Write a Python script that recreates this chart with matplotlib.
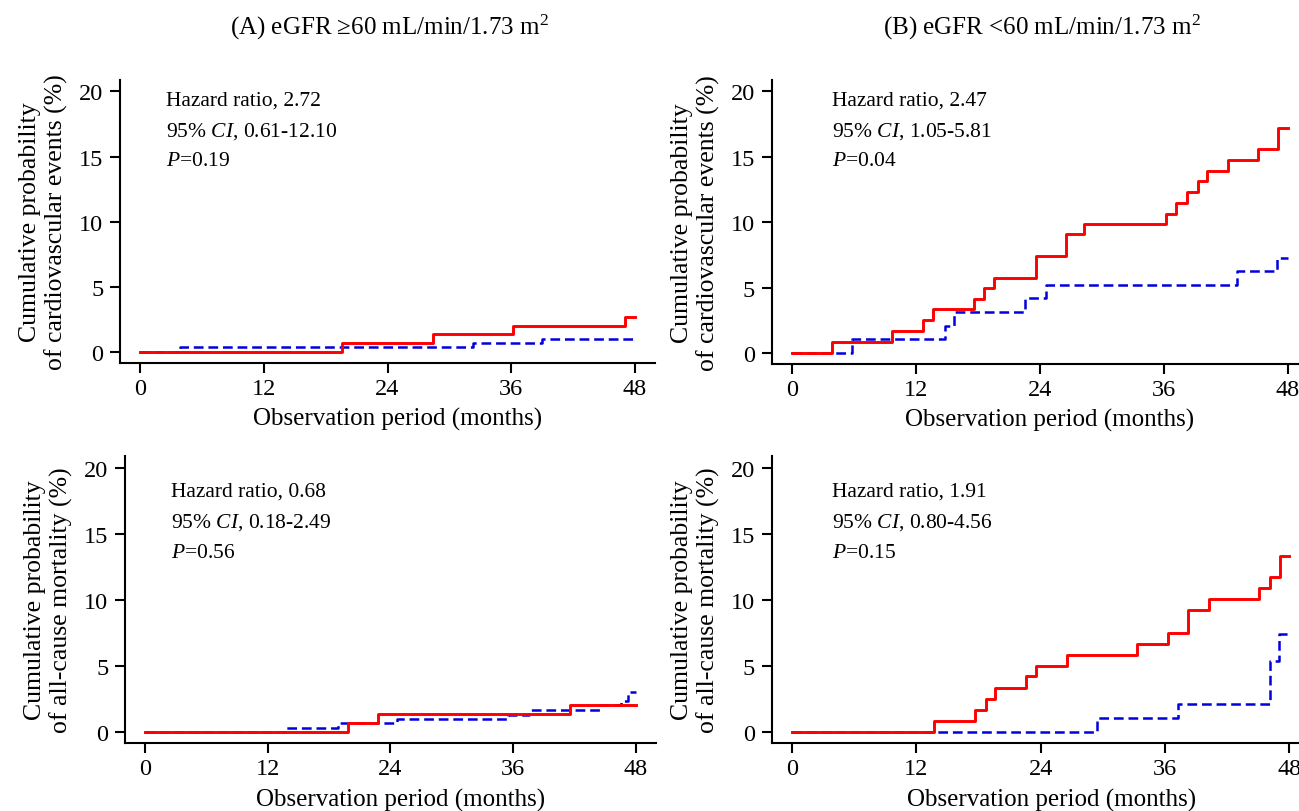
import numpy as np
import matplotlib.pyplot as plt

plt.rcParams['font.family'] = ['Liberation Serif', 'DejaVu Serif']
plt.rcParams['mathtext.fontset'] = 'custom'
plt.rcParams['mathtext.rm'] = 'Liberation Serif'
plt.rcParams['mathtext.it'] = 'Liberation Serif:italic'
plt.rcParams['lines.scale_dashes'] = False

# ---- data ----
col_titles = ['(A) eGFR \u226560 mL/min/1.73 m$^{2}$', '(B) eGFR <60 mL/min/1.73 m$^{2}$']
row_ylabels = ['Cumulative probability\nof cardiovascular events (%)',
               'Cumulative probability\nof all-cause mortality (%)']
x_label = 'Observation period (months)'
x_ticks = [0, 12, 24, 36, 48]
y_ticks = [0, 5, 10, 15, 20]
follow_up = 48

hazard_ratio = [['2.72', '2.47'], ['0.68', '1.91']]
ci_95 = [['0.61-12.10', '1.05-5.81'], ['0.18-2.49', '0.80-4.56']]
p_value = [['0.19', '0.04'], ['0.56', '0.15']]

# step times (months) and cumulative probability (%) after each step
cv_a_red_t = [0, 19.6, 28.4, 36.2, 47.0]
cv_a_red_p = [0, 0.70, 1.40, 1.99, 2.69]
cv_a_blue_t = [0, 3.9, 32.3, 39.0]
cv_a_blue_p = [0, 0.34, 0.70, 0.98]

cv_b_red_t = [0, 3.9, 9.7, 12.7, 13.7, 17.6, 18.6, 19.6, 23.6, 26.5, 28.3,
              36.2, 37.2, 38.3, 39.3, 40.2, 42.2, 45.1, 47.1]
cv_b_red_p = [0, 0.86, 1.67, 2.51, 3.32, 4.13, 4.94, 5.75, 7.39, 9.06, 9.85,
              10.66, 11.47, 12.28, 13.14, 13.95, 14.76, 15.57, 17.19]
cv_b_blue_t = [0, 5.8, 14.8, 15.7, 22.6, 24.6, 43.1, 47.0]
cv_b_blue_p = [0, 1.07, 2.08, 3.14, 4.20, 5.22, 6.28, 7.29]

mort_a_red_t = [0, 19.8, 22.8, 41.5]
mort_a_red_p = [0, 0.67, 1.38, 2.03]
mort_a_blue_t = [0, 13.8, 18.9, 24.6, 35.5, 37.5, 44.5, 46.5, 47.2]
mort_a_blue_p = [0, 0.31, 0.69, 0.97, 1.28, 1.64, 2.00, 2.33, 3.00]

mort_b_red_t = [0, 13.7, 17.7, 18.7, 19.6, 22.6, 23.5, 26.5, 33.3, 36.3,
                38.2, 40.2, 45.1, 46.1, 47.1]
mort_b_red_p = [0, 0.82, 1.67, 2.49, 3.32, 4.19, 5.01, 5.84, 6.66, 7.48,
                9.23, 10.03, 10.85, 11.70, 13.34]
mort_b_blue_t = [0, 29.4, 37.2, 46.1, 47.0]
mort_b_blue_p = [0, 1.08, 2.11, 5.32, 7.43]

curves = [[(cv_a_red_t, cv_a_red_p, cv_a_blue_t, cv_a_blue_p),
           (cv_b_red_t, cv_b_red_p, cv_b_blue_t, cv_b_blue_p)],
          [(mort_a_red_t, mort_a_red_p, mort_a_blue_t, mort_a_blue_p),
           (mort_b_red_t, mort_b_red_p, mort_b_blue_t, mort_b_blue_p)]]

# ---- layout (pixels) ----
W, H = 1299, 812
# left, width, top, bottom
boxes = [[(120, 535, 80.7, 364), (771.7, 536, 80.7, 365)],
         [(125, 531, 456.7, 744), (771.7, 538, 456.7, 744)]]
text_x = [2.5, 3.85]
text_y = [[19.35, 17.0, 14.7], [18.25, 15.9, 13.6]]

fig = plt.figure(figsize=(W / 100, H / 100), dpi=100)


def km(t, p):
    return list(t) + [follow_up], list(p) + [p[-1]]


for r in range(2):
    for c in range(2):
        left, width, top, bottom = boxes[r][c]
        ax = fig.add_axes([left / W, 1 - bottom / H, width / W, (bottom - top) / H])
        rt, rp, bt, bp = curves[r][c]
        x, y = km(bt, bp)
        ax.step(x, y, where='post', color='#0000dd', lw=1.8, ls=(0, (7, 3.5)), zorder=2)
        x, y = km(rt, rp)
        ax.step(x, y, where='post', color='#ff0000', lw=2.1, zorder=3)

        ax.set_xlim(-1.95, 49.95)
        ax.set_ylim(-0.85, 20.9)
        ax.set_xticks(x_ticks)
        ax.set_yticks(y_ticks)
        for s in ['top', 'right']:
            ax.spines[s].set_visible(False)
        for s in ['left', 'bottom']:
            ax.spines[s].set_linewidth(1.5)
        ax.tick_params(length=7, width=1.5, labelsize=17.5, pad=4)
        ax.tick_params(axis='y', pad=5)

        ax.set_xlabel(x_label, fontsize=18)
        ax.xaxis.set_label_coords((25 + 1.95) / 51.9, -0.155)
        ax.set_ylabel(row_ylabels[r], fontsize=18.5, labelpad=8)

        lines = ['Hazard ratio, ' + hazard_ratio[r][c],
                 '95% $CI$, ' + ci_95[r][c],
                 '$P$=' + p_value[r][c]]
        for txt, ty in zip(lines, text_y[r]):
            ax.text(text_x[c], ty, txt, fontsize=15.5, va='center', ha='left')

        if r == 0:
            fig.text([389, 1042][c] / W, 1 - 27 / H, col_titles[c],
                     fontsize=18, ha='center', va='center')

fig.savefig('out.png', dpi=100)
